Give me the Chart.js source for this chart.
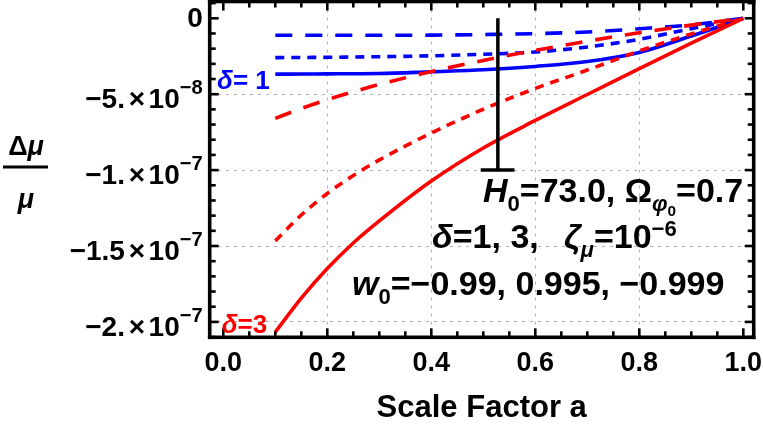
<!DOCTYPE html>
<html>
<head>
<meta charset="utf-8">
<script src="https://cdn.jsdelivr.net/npm/chart.js@4.4.1/dist/chart.umd.min.js"></script>
<style>
html,body{margin:0;padding:0;background:#ffffff;overflow:hidden;}
#wrap{position:relative;width:763px;height:424px;}
</style>
</head>
<body>
<div id="wrap"><canvas id="chart"></canvas></div>
<script>
// ---------------- data ----------------
const scaleFactorA = [0.1, 0.15, 0.2, 0.25, 0.3, 0.4, 0.5, 0.6, 0.7, 0.8, 0.9, 1.0];

// delta = 1 (blue)
const delta1_w0_099  = [-3.68e-8, -3.67e-8, -3.66e-8, -3.65e-8, -3.64e-8, -3.52e-8, -3.39e-8, -3.17e-8, -2.85e-8, -2.25e-8, -1.17e-8, 0];
const delta1_w0_0995 = [-2.59e-8, -2.58e-8, -2.57e-8, -2.55e-8, -2.53e-8, -2.47e-8, -2.37e-8, -2.22e-8, -1.89e-8, -1.38e-8, -6.8e-9, 0];
const delta1_w0_0999 = [-1.12e-8, -1.12e-8, -1.12e-8, -1.12e-8, -1.12e-8, -1.11e-8, -1.07e-8, -1.01e-8, -9.0e-9, -6.9e-9, -4.3e-9, 0];

// delta = 3 (red)
const delta3_w0_099  = [-2.067e-7, -1.843e-7, -1.648e-7, -1.48e-7, -1.335e-7, -1.072e-7, -8.54e-8, -6.73e-8, -5.02e-8, -3.31e-8, -1.63e-8, 0];
const delta3_w0_0995 = [-1.467e-7, -1.296e-7, -1.154e-7, -1.036e-7, -9.33e-8, -7.56e-8, -5.99e-8, -4.62e-8, -3.41e-8, -2.15e-8, -1.03e-8, 0];
const delta3_w0_0999 = [-6.59e-8, -5.94e-8, -5.36e-8, -4.84e-8, -4.36e-8, -3.51e-8, -2.78e-8, -2.11e-8, -1.51e-8, -9.5e-9, -4.5e-9, 0];

// vertical marker with end bar
const markerA = [0.528, 0.528];
const markerValues = [0, -1.0e-7];
const markerCapA = [0.495, 0.56];
const markerCapValues = [-1.0e-7, -1.0e-7];

// axes
const xTickValues = [0, 0.2, 0.4, 0.6, 0.8, 1.0];
const xTickLabels = ['0.0', '0.2', '0.4', '0.6', '0.8', '1.0'];
const yTickValues = [0, -5e-8, -1e-7, -1.5e-7, -2e-7];
const yTickMantissa = ['0', '\u22125.', '\u22121.', '\u22121.5', '\u22122.'];
const yTickExponent = ['', '\u22128', '\u22127', '\u22127', '\u22127'];

// ---------------- styles / layout ----------------
const FONT = '"Liberation Sans", Arial, Helvetica, sans-serif';
const BLUE = '#0000ff', RED = '#ff0000';
const FRAME_COLOR = '#000000';
const DASHED = [17, 13], DOTTED = [9, 7];
const X_MIN = -0.02615, X_MAX = 1.02, Y_MIN = -2.1014e-7, Y_MAX = 1.1067e-8;

const toPts = (xs, ys) => xs.map((a, i) => ({x: a, y: ys[i]}));

function curve(label, ys, color, dash) {
  return {
    label, data: toPts(scaleFactorA, ys), borderColor: color, borderWidth: 3.6,
    borderDash: dash, pointRadius: 0, showLine: true, fill: false,
    cubicInterpolationMode: 'monotone', borderCapStyle: 'butt'
  };
}

// annotation texts: positions in data coordinates
const annotations = [
  {a: -0.0121, v: -4.69e-8, size: 26, color: BLUE, segs: [{t: '\u03b4', it: 1}, {t: '= 1'}]},
  {a: -0.0031, v: -2.073e-7, size: 26, color: RED, segs: [{t: '\u03b4', it: 1}, {t: '=3'}]},
  {a: 0.4994, v: -1.2101e-7, size: 34, color: '#000', segs: [
    {t: 'H', it: 1}, {t: '0', s: 0.65, dy: 0.27}, {t: '=73.0, \u03a9'},
    {t: '\u03c6', it: 1, s: 0.65, dy: 0.27}, {t: '0', s: 0.45, dy: 0.42}, {t: '=0.7'}]},
  {a: 0.4013, v: -1.5132e-7, size: 34, color: '#000', segs: [
    {t: '\u03b4', it: 1}, {t: '=1, 3,', gap: 0.74}, {t: '\u03b6', it: 1},
    {t: '\u03bc', it: 1, s: 0.65, dy: 0.27}, {t: '=10'}, {t: '\u22126', s: 0.65, dy: -0.36}]},
  {a: 0.2475, v: -1.8228e-7, size: 34, color: '#000', segs: [
    {t: 'w', it: 1}, {t: '0', s: 0.65, dy: 0.27}, {t: '=\u22120.99, 0.995, \u22120.999'}]}
];

function drawRich(ctx, x, y, segs, size, color, align) {
  ctx.textBaseline = 'alphabetic';
  ctx.textAlign = 'left';
  const fontOf = sg => (sg.it ? 'italic ' : '') + 'bold ' + (size * (sg.s || 1)) + 'px ' + FONT;
  let total = 0;
  for (const sg of segs) { ctx.font = fontOf(sg); total += ctx.measureText(sg.t).width + (sg.gap || 0) * size; }
  let cx = align === 'right' ? x - total : x;
  ctx.fillStyle = color;
  for (const sg of segs) {
    ctx.font = fontOf(sg);
    ctx.fillText(sg.t, cx, y + (sg.dy || 0) * size);
    cx += ctx.measureText(sg.t).width + (sg.gap || 0) * size;
  }
}

const framePlugin = {
  id: 'frameTicks',
  afterDraw(chart) {
    const {ctx, chartArea: ca, scales: {x, y}} = chart;
    ctx.save();
    ctx.setLineDash([]);
    ctx.fillStyle = FRAME_COLOR;
    const L = ca.left, R = ca.right, T = ca.top, B = ca.bottom;
    const fw = 3.6, tw = 2.6;
    // frame ticks on all four sides, positions from the scales
    for (let k = 0; k <= 20; k++) {
      const px = x.getPixelForValue(k * 0.05);
      const len = (k % 4 === 0) ? 9 : 6;
      ctx.fillRect(px - tw / 2, B - len, tw, len);
      ctx.fillRect(px - tw / 2, T, tw, len);
    }
    for (let k = -1; k <= 21; k++) {
      const v = -k * 1e-8;
      if (v > y.max || v < y.min) continue;
      const py = y.getPixelForValue(v);
      const len = (k % 5 === 0) ? 9 : 6;
      ctx.fillRect(L, py - tw / 2, len, tw);
      ctx.fillRect(R - len, py - tw / 2, len, tw);
    }
    // frame
    ctx.fillRect(L - fw / 2, T - fw / 2, R - L + fw, fw);
    ctx.fillRect(L - fw / 2, B - fw / 2, R - L + fw, fw);
    ctx.fillRect(L - fw / 2, T - fw / 2, fw, B - T + fw);
    ctx.fillRect(R - fw / 2, T - fw / 2, fw, B - T + fw);

    // y tick labels with superscript exponents (positions from the y scale)
    yTickValues.forEach((v, i) => {
      const py = y.getPixelForValue(v);
      const segs = yTickExponent[i]
        ? [{t: yTickMantissa[i], gap: 0.14}, {t: '\u00d7', gap: 0.12}, {t: '10'}, {t: yTickExponent[i], s: 0.72, dy: -0.5}]
        : [{t: yTickMantissa[i]}];
      drawRich(ctx, L - 7, py + (yTickExponent[i] ? 14 : 9), segs, 28, '#000', 'right');
    });

    for (const an of annotations) {
      drawRich(ctx, x.getPixelForValue(an.a), y.getPixelForValue(an.v), an.segs, an.size, an.color);
    }
    // y-axis title as a fraction  Δμ / μ
    const cx = 26;
    ctx.fillStyle = '#000';
    ctx.textBaseline = 'alphabetic';
    ctx.textAlign = 'left';
    ctx.font = 'bold 27px ' + FONT;
    const wD = ctx.measureText('\u0394').width;
    ctx.font = 'italic bold 27px ' + FONT;
    const wM = ctx.measureText('\u03bc').width;
    const top = 155, bar = 167, bot = 208;
    ctx.font = 'bold 27px ' + FONT;
    ctx.fillText('\u0394', cx - (wD + wM) / 2, top);
    ctx.font = 'italic bold 27px ' + FONT;
    ctx.fillText('\u03bc', cx - (wD + wM) / 2 + wD, top);
    ctx.fillText('\u03bc', cx - wM / 2, bot);
    ctx.fillRect(3, bar - 1.5, 45, 3);
    ctx.restore();
  }
};

const datasets = [
  {label: 'marker', data: toPts(markerA, markerValues), borderColor: '#000', borderWidth: 3.5, pointRadius: 0, showLine: true, fill: false},
  {label: 'marker cap', data: toPts(markerCapA, markerCapValues), borderColor: '#000', borderWidth: 3.5, pointRadius: 0, showLine: true, fill: false},
  curve('\u03b4=3, w0=-0.99', delta3_w0_099, RED, []),
  curve('\u03b4=3, w0=-0.995', delta3_w0_0995, RED, DOTTED),
  curve('\u03b4=3, w0=-0.999', delta3_w0_0999, RED, DASHED),
  curve('\u03b4=1, w0=-0.99', delta1_w0_099, BLUE, []),
  curve('\u03b4=1, w0=-0.995', delta1_w0_0995, BLUE, DOTTED),
  curve('\u03b4=1, w0=-0.999', delta1_w0_0999, BLUE, DASHED)
];

new Chart(document.getElementById('chart'), {
  type: 'scatter',
  data: {datasets},
  plugins: [framePlugin],
  options: {
    responsive: true, maintainAspectRatio: false, animation: false,
    layout: {padding: {left: 0, right: 9.3, top: 1.5, bottom: 0}},
    plugins: {legend: {display: false}, tooltip: {enabled: false}},
    scales: {
      x: {
        type: 'linear', position: 'bottom', min: X_MIN, max: X_MAX,
        afterBuildTicks: s => { s.ticks = xTickValues.map(v => ({value: v})); },
        afterFit: s => { s.height = 86.7; s.paddingLeft = 0; s.paddingRight = 0; },
        ticks: {
          callback: (v, i) => xTickLabels[i], color: '#000', padding: 10,
          maxRotation: 0, autoSkip: false,
          font: {family: FONT, size: 27, weight: 'bold', lineHeight: 1.2}
        },
        grid: {
          drawTicks: false, lineWidth: 1,
          color: c => (c.tick && c.tick.value > 0.001 && c.tick.value < 0.999) ? '#b0b0b0' : 'rgba(0,0,0,0)'
        },
        border: {display: false, dash: [3, 5]},
        title: {display: true, text: 'Scale Factor a', color: '#000', padding: {top: 0, bottom: 0},
                font: {family: FONT, size: 31, weight: 'bold', lineHeight: 1}}
      },
      y: {
        type: 'linear', position: 'left', min: Y_MIN, max: Y_MAX,
        afterBuildTicks: s => { s.ticks = yTickValues.map(v => ({value: v})); },
        afterFit: s => { s.width = 209.7; s.paddingTop = 0; s.paddingBottom = 0; },
        ticks: {display: false},
        grid: {
          drawTicks: false, lineWidth: 1,
          color: c => (c.tick && c.tick.value < -1e-9) ? '#b0b0b0' : 'rgba(0,0,0,0)'
        },
        border: {display: false, dash: [3, 5]}
      }
    }
  }
});
</script>
</body>
</html>
